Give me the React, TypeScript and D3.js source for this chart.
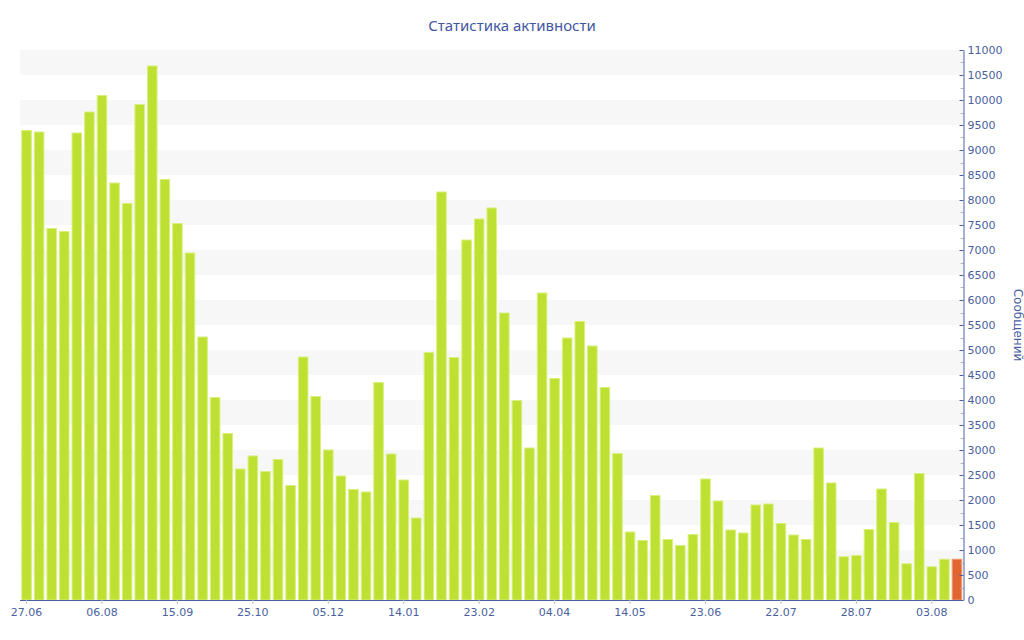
import { useEffect, useRef } from "react";
import * as d3 from "d3";

// weekly message counts, oldest first; the last (current) week is highlighted
const messages = [
  9390, 9360, 7430, 7370, 9340, 9760, 10090, 8340, 7930, 9910, 10680, 8410, 7530,
  6940, 5260, 4050, 3330, 2620, 2880, 2570, 2810, 2290, 4860, 4070, 3000, 2480,
  2210, 2160, 4350, 2920, 2400, 1640, 4950, 8160, 4850, 7200, 7620, 7840, 5740,
  3990, 3040, 6140, 4430, 5240, 5570, 5080, 4250, 2930, 1360, 1190, 2090, 1210,
  1090, 1310, 2420, 1980, 1400, 1340, 1900, 1920, 1530, 1300, 1210, 3040, 2340,
  865, 890, 1410, 2220, 1550, 725, 2530, 665, 815, 815,
];

// a date label sits under every sixth bar
const tickLabels = [
  "27.06", "06.08", "15.09", "25.10", "05.12", "14.01", "23.02",
  "04.04", "14.05", "23.06", "22.07", "28.07", "03.08",
];

const title = "Статистика активности";
const yTitle = "Сообщений";

const App = () => {
  const svgRef = useRef<SVGSVGElement | null>(null);

  useEffect(() => {
    document.body.style.margin = "0";
    const width = 1024;
    const height = 640;
    const svg = d3.select(svgRef.current);
    svg.selectAll("*").remove();

    const margin = { top: 50, right: 60.5, bottom: 40, left: 20 };
    const innerWidth = width - margin.left - margin.right;
    const innerHeight = height - margin.top - margin.bottom;
    const font = "'DejaVu Sans', Verdana, sans-serif";
    const blue = "#4a5fa0";

    svg
      .append("text")
      .attr("x", width / 2)
      .attr("y", 31)
      .attr("text-anchor", "middle")
      .attr("fill", "#3f57a0")
      .attr("font-family", "'Noto Sans', sans-serif")
      .attr("font-size", 15)
      .text(title);

    const g = svg
      .append("g")
      .attr("transform", `translate(${margin.left},${margin.top})`);

    const x = d3
      .scaleBand<number>()
      .domain(d3.range(messages.length))
      .range([0, innerWidth])
      .paddingInner(0.24)
      .paddingOuter(0.14);
    const y = d3.scaleLinear().domain([0, 11000]).range([innerHeight, 0]);

    // alternating bands
    const bandStarts = d3.range(500, 11000, 1000);
    g.selectAll("rect.band")
      .data(bandStarts)
      .join("rect")
      .attr("class", "band")
      .attr("x", 0)
      .attr("width", innerWidth)
      .attr("y", (d) => y(d + 500))
      .attr("height", (d) => y(d) - y(d + 500))
      .attr("fill", "#f7f7f7");

    g.selectAll("rect.bar")
      .data(messages)
      .join("rect")
      .attr("class", "bar")
      .attr("x", (_, i) => x(i)!)
      .attr("width", x.bandwidth())
      .attr("y", (d) => y(d))
      .attr("height", (d) => innerHeight - y(d))
      .attr("fill", (_, i) => (i === messages.length - 1 ? "#e06530" : "#bde033"))
      .attr("stroke", (_, i) => (i === messages.length - 1 ? "#f09a70" : "#d9f07c"))
      .attr("stroke-width", 1);

    // x axis
    const xAxis = d3
      .axisBottom(x)
      .tickValues(d3.range(0, messages.length, 6))
      .tickSize(4)
      .tickFormat((d) => tickLabels[(d as number) / 6]);
    const xg = g
      .append("g")
      .attr("transform", `translate(0,${innerHeight})`)
      .call(xAxis);
    xg.select(".domain")
      .attr("stroke", blue)
      .attr("d", `M0,0.5H${innerWidth}`);
    xg.selectAll(".tick line").attr("stroke", "#c0c0c0");
    xg.selectAll(".tick text")
      .attr("fill", blue)
      .attr("font-family", font)
      .attr("font-size", 11)
      .attr("dy", "0.85em");

    // y axis on the right, minor ticks every 250
    const yg = g.append("g").attr("transform", `translate(${innerWidth},0)`);
    yg.selectAll("line.minor")
      .data(d3.range(250, 11000, 500))
      .join("line")
      .attr("class", "minor")
      .attr("x1", -3)
      .attr("x2", 0)
      .attr("y1", (d) => Math.round(y(d)) + 0.5)
      .attr("y2", (d) => Math.round(y(d)) + 0.5)
      .attr("stroke", "#b8b8b8");
    const yAxis = d3
      .axisRight(y)
      .tickValues(d3.range(0, 11001, 500))
      .tickSize(0)
      .tickPadding(4)
      .tickFormat((d) => String(d));
    yg.call(yAxis);
    yg.select(".domain").attr("stroke", blue);
    yg.selectAll(".tick")
      .append("line")
      .attr("x1", -4)
      .attr("x2", 0)
      .attr("stroke", blue);
    yg.selectAll(".tick text")
      .attr("fill", blue)
      .attr("font-family", font)
      .attr("font-size", 11);

    svg
      .append("text")
      .attr("transform", `translate(1014,${margin.top + innerHeight / 2}) rotate(90)`)
      .attr("text-anchor", "middle")
      .attr("fill", blue)
      .attr("font-family", font)
      .attr("font-size", 12)
      .text(yTitle);
  }, []);

  return (
    <svg
      ref={svgRef}
      role="img"
      aria-label={title}
      width={1024}
      height={640}
      style={{ display: "block" }}
    />
  );
};

export default App;
